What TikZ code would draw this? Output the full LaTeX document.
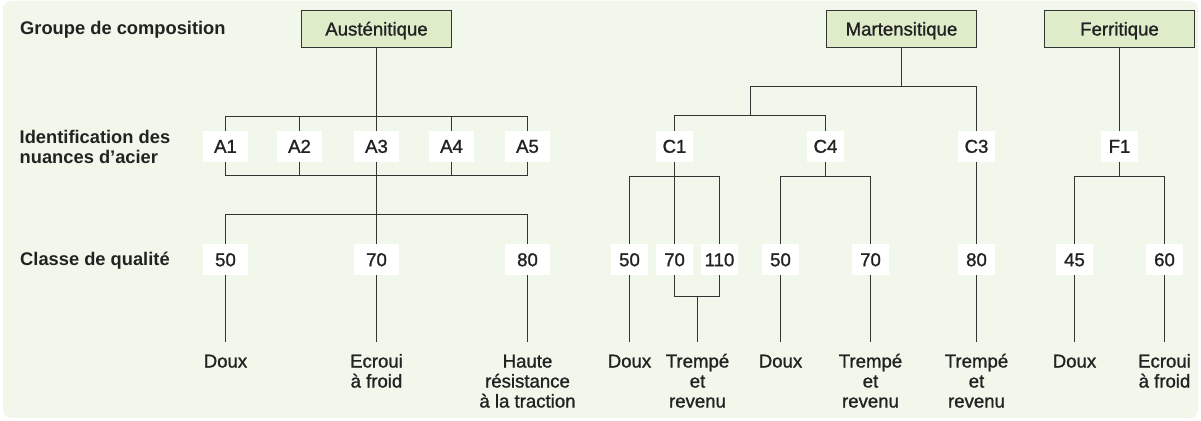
\documentclass[tikz,border=0pt]{standalone}
\usepackage{fontspec}
\setmainfont{Liberation Sans}
\newfontfamily\medfont{Liberation Sans}[FakeBold=1.2]
\definecolor{bgc}{RGB}{241,247,235}
\definecolor{grpfill}{RGB}{222,236,201}
\definecolor{linec}{RGB}{52,52,52}
\definecolor{txtc}{RGB}{34,34,34}
\newcommand\fsz{\fontsize{18.6}{20}\selectfont}
\newcommand\bsz{\fontsize{18.3}{20}\selectfont}
\newcommand\lblgap{\rule{0pt}{25.6pt}}
\begin{document}
\begin{tikzpicture}[x=1pt,y=-1pt,
  every node/.style={text=txtc},
  grp/.style={draw=linec,fill=grpfill,line width=1.3pt,minimum width=150pt,minimum height=37pt,inner sep=0pt,text height=13pt,text depth=0pt,font=\fsz\medfont},
  wbox/.style={fill=white,minimum height=31pt,inner sep=0pt,text height=13pt,text depth=0pt,font=\fsz\medfont},
  wideb/.style={wbox,minimum width=45pt},
  narb/.style={wbox,minimum width=37.5pt},
  lbl/.style={align=center,anchor=north,inner sep=0pt,font=\fsz\medfont},
  side/.style={inner sep=0pt,align=left,font=\bsz\bfseries},
  conn/.style={draw=linec,line width=1.5pt}]
\useasboundingbox (0,0) rectangle (1201,420);
\fill[bgc,rounded corners=8pt] (3,1) rectangle (1198,418);

% side labels
\node[side,anchor=base west] (s1) at (20,34.5) {Groupe de composition};
\node[side,anchor=north west] (s2) at (19.5,130) {Identification des\\nuances d’acier};
\node[side,anchor=base west] (s3) at (20,265) {Classe de qualité};

% group boxes
\node[grp] (aus) at (376.5,29) {Austénitique};
\node[grp] (mart) at (901.5,29) {Martensitique};
\node[grp] (fer) at (1119.5,29) {Ferritique};

% steel grades
\node[wideb] (A1) at (225.5,146.3) {A1};
\node[wideb] (A2) at (299.5,146.3) {A2};
\node[wideb] (A3) at (376.5,146.3) {A3};
\node[wideb] (A4) at (451.5,146.3) {A4};
\node[wideb] (A5) at (527.5,146.3) {A5};
\node[narb] (C1) at (674.5,146.3) {C1};
\node[narb] (C4) at (825.5,146.3) {C4};
\node[narb] (C3) at (976.5,146.3) {C3};
\node[narb] (F1) at (1119.5,146.3) {F1};

% quality classes
\node[wideb] (q50) at (225.5,259.7) {50};
\node[wideb] (q70) at (376.5,259.7) {70};
\node[wideb] (q80) at (527.5,259.7) {80};
\node[narb] (m50) at (629.5,259.7) {50};
\node[narb] (m70) at (674.5,259.7) {70};
\node[narb] (m110) at (719.5,259.7) {110};
\node[narb] (n50) at (780.5,259.7) {50};
\node[narb] (n70) at (870.5,259.7) {70};
\node[narb] (n80) at (976.5,259.7) {80};
\node[narb] (f45) at (1074.5,259.7) {45};
\node[narb] (f60) at (1164.5,259.7) {60};

% bottom labels
\node[lbl] (l1) at (225.5,341.7) {\lblgap Doux};
\node[lbl] (l2) at (376.5,341.7) {\lblgap Ecroui\\à froid};
\node[lbl] (l3) at (527.5,341.7) {\lblgap Haute\\résistance\\à la traction};
\node[lbl] (l4) at (629.5,341.7) {\lblgap Doux};
\node[lbl] (l5) at (697.5,341.7) {\lblgap Trempé\\et\\revenu};
\node[lbl] (l6) at (780.5,341.7) {\lblgap Doux};
\node[lbl] (l7) at (870.5,341.7) {\lblgap Trempé\\et\\revenu};
\node[lbl] (l8) at (976.5,341.7) {\lblgap Trempé\\et\\revenu};
\node[lbl] (l9) at (1074.5,341.7) {\lblgap Doux};
\node[lbl] (l10) at (1164.5,341.7) {\lblgap Ecroui\\à froid};

% junction coordinates
\coordinate (abar) at (376.5,116.5);
\coordinate (abot) at (376.5,175.5);
\coordinate (aq) at (376.5,214.5);
\coordinate (mbar) at (901.5,86.5);
\coordinate (msub) at (750.5,115.5);
\coordinate (c1bar) at (674.5,176.5);
\coordinate (c4bar) at (825.5,176.5);
\coordinate (fbar) at (1119.5,176.5);
\coordinate (tjoin) at (697.5,296.5);

% austenitic
\draw[conn] (aus.south) -- (A3.north);
\draw[conn] (A1.north) |- (abar) -| (A5.north);
\draw[conn] (A2.north) -- (A2.north |- abar);
\draw[conn] (A4.north) -- (A4.north |- abar);
\draw[conn] (A1.south) |- (abot) -| (A5.south);
\draw[conn] (A2.south) -- (A2.south |- abot);
\draw[conn] (A4.south) -- (A4.south |- abot);
\draw[conn] (A3.south) -- (q70.north);
\draw[conn] (q50.north) |- (aq) -| (q80.north);
\draw[conn] (q50.south) -- (l1.north);
\draw[conn] (q70.south) -- (l2.north);
\draw[conn] (q80.south) -- (l3.north);

% martensitic
\draw[conn] (mart.south) -- (mbar);
\draw[conn] (C3.north) |- (mbar) -| (msub);
\draw[conn] (C1.north) |- (msub) -| (C4.north);
\draw[conn] (C1.south) -- (m70.north);
\draw[conn] (m50.north) |- (c1bar) -| (m110.north);
\draw[conn] (C4.south) -- (c4bar);
\draw[conn] (n50.north) |- (c4bar) -| (n70.north);
\draw[conn] (C3.south) -- (n80.north);
\draw[conn] (m50.south) -- (l4.north);
\draw[conn] (m70.south) |- (tjoin) -| (m110.south);
\draw[conn] (tjoin) -- (l5.north);
\draw[conn] (n50.south) -- (l6.north);
\draw[conn] (n70.south) -- (l7.north);
\draw[conn] (n80.south) -- (l8.north);

% ferritic
\draw[conn] (fer.south) -- (F1.north);
\draw[conn] (F1.south) -- (fbar);
\draw[conn] (f45.north) |- (fbar) -| (f60.north);
\draw[conn] (f45.south) -- (l9.north);
\draw[conn] (f60.south) -- (l10.north);
\end{tikzpicture}
\end{document}
